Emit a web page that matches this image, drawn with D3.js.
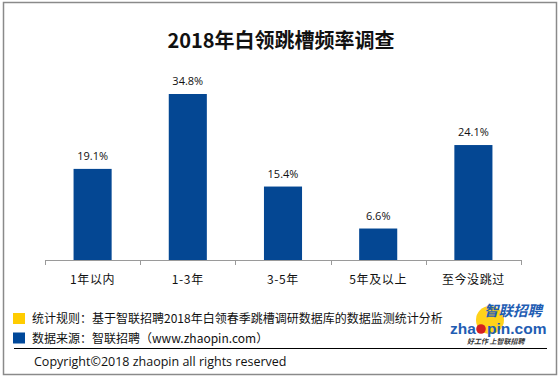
<!DOCTYPE html>
<html><head><meta charset="utf-8">
<script src="https://cdn.jsdelivr.net/npm/d3@7/dist/d3.min.js"></script>
<style>html,body{margin:0;padding:0;background:#fff;}svg{display:block;}</style>
</head><body><svg id="c" width="559" height="378"></svg>
<script>
const title = "2018年白领跳槽频率调查";
const categories = ["1年以内", "1-3年", "3-5年", "5年及以上", "至今没跳过"];
const values = [19.1, 34.8, 15.4, 6.6, 24.1];
const valueLabels = ["19.1%", "34.8%", "15.4%", "6.6%", "24.1%"];
const legendItems = ["统计规则：基于智联招聘2018年白领春季跳槽调研数据库的数据监测统计分析", "数据来源：智联招聘（www.zhaopin.com）"];
const legendColors = ["#ffcc00", "#00489a"];
const copyright = "Copyright©2018 zhaopin all rights reserved";

const svg = d3.select("#c");
const CJK = "'Noto Sans CJK SC', 'Microsoft YaHei', sans-serif";
const LAT = "'Open Sans', 'Noto Sans CJK SC', sans-serif";

// frame
svg.append("rect").attr("x", 3.5).attr("y", 2.5).attr("width", 553).attr("height", 372)
  .attr("fill", "#fff").attr("stroke", "#8a8a8a").attr("stroke-width", 1.5);

svg.append("text").attr("x", 281).attr("y", 48).attr("text-anchor", "middle")
  .attr("font-family", CJK).attr("font-weight", "bold").attr("font-size", 20)
  .attr("fill", "#111").text(title);

const x = d3.scaleBand().domain(categories).range([45, 521]).paddingInner(0.6).paddingOuter(0.3);
const y = d3.scaleLinear().domain([0, 40]).range([260, 69.2]);

svg.selectAll("rect.bar").data(values).join("rect").attr("class", "bar")
  .attr("x", (d, i) => x(categories[i])).attr("width", x.bandwidth())
  .attr("y", d => y(d)).attr("height", d => y(0) - y(d)).attr("fill", "#044793");

svg.selectAll("text.val").data(values).join("text").attr("class", "val")
  .attr("x", (d, i) => x(categories[i]) + x.bandwidth() / 2).attr("y", d => y(d) - 9)
  .attr("text-anchor", "middle").attr("font-family", LAT).attr("font-size", 11)
  .attr("fill", "#111").text((d, i) => valueLabels[i]);

// axis
const half = x.step() * x.paddingInner() / 2;
const bounds = categories.map(c => x(c) - half).concat([x(categories[categories.length - 1]) + x.bandwidth() + half]);
svg.append("line").attr("x1", bounds[0]).attr("x2", bounds[bounds.length - 1])
  .attr("y1", 260.5).attr("y2", 260.5).attr("stroke", "#9a9a9a").attr("stroke-width", 1);
svg.selectAll("line.tick").data(bounds).join("line").attr("class", "tick")
  .attr("x1", d => Math.round(d) + 0.5).attr("x2", d => Math.round(d) + 0.5)
  .attr("y1", 260).attr("y2", 265).attr("stroke", "#9a9a9a");
svg.selectAll("text.cat").data(categories).join("text").attr("class", "cat")
  .attr("x", d => x(d) + x.bandwidth() / 2).attr("y", 284).attr("text-anchor", "middle")
  .attr("font-family", CJK).attr("font-size", 12).attr("letter-spacing", 0.6)
  .attr("fill", "#111").text(d => d);

// legend
legendItems.forEach((t, i) => {
  const yy = 313 + i * 19.5;
  svg.append("rect").attr("x", 13).attr("y", yy).attr("width", 12).attr("height", 11).attr("fill", legendColors[i]);
  svg.append("text").attr("x", 32).attr("y", yy + 10).attr("font-family", CJK)
    .attr("font-size", 12).attr("fill", "#111").text(t);
});
svg.append("line").attr("x1", 14).attr("x2", 547).attr("y1", 348.5).attr("y2", 348.5)
  .attr("stroke", "#000").attr("stroke-width", 1);
svg.append("text").attr("x", 34).attr("y", 365.5).attr("font-family", LAT)
  .attr("font-size", 12.5).attr("fill", "#111").text(copyright);

// logo
const logo = svg.append("g");
logo.append("circle").attr("cx", 490).attr("cy", 320).attr("r", 14).attr("fill", "#ffd21a");
logo.append("text").attr("x", 484).attr("y", 316).attr("font-family", CJK).attr("font-weight", "bold")
  .attr("font-style", "italic").attr("font-size", 14.5).attr("fill", "#1f5db3").text("智联招聘");
logo.append("text").attr("x", 450).attr("y", 334).attr("font-family", "'Liberation Sans', Arial, sans-serif")
  .attr("font-weight", "bold").attr("font-size", 15.5).attr("fill", "#1f5db3").text("zha");
logo.append("circle").attr("cx", 481).attr("cy", 329).attr("r", 4.8).attr("fill", "#d42020");
logo.append("text").attr("x", 487).attr("y", 334).attr("font-family", "'Liberation Sans', Arial, sans-serif")
  .attr("font-weight", "bold").attr("font-size", 15.5).attr("fill", "#1f5db3").text("pin.com");
logo.append("text").attr("x", 467).attr("y", 344).attr("font-family", CJK)
  .attr("font-style", "italic").attr("font-weight", "bold").attr("font-size", 7).attr("fill", "#333").text("好工作  上智联招聘");
</script></body></html>
